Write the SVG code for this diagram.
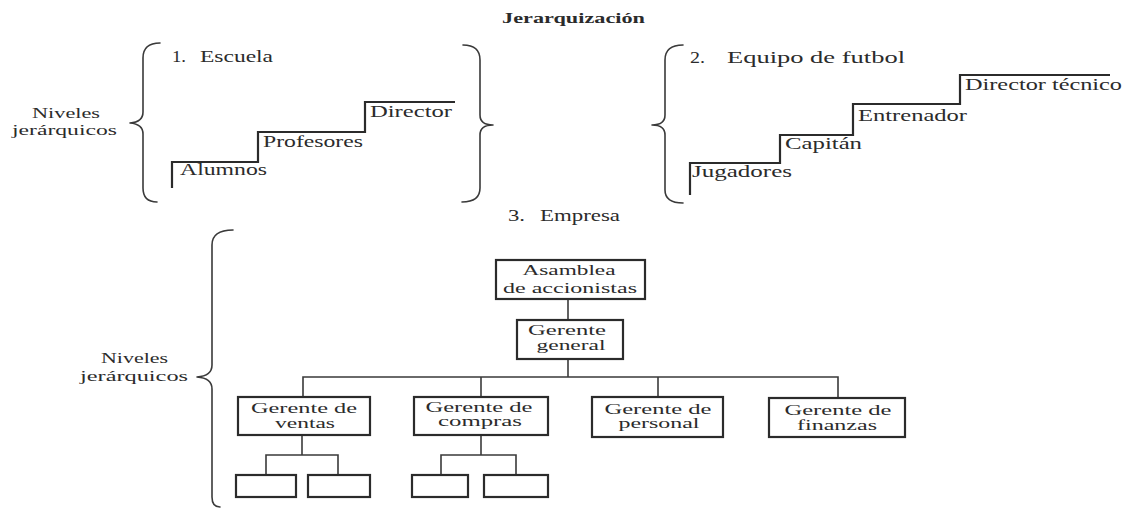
<svg xmlns="http://www.w3.org/2000/svg" width="1129" height="510" viewBox="0 0 1129 510" font-family="'Liberation Serif', 'DejaVu Serif', serif">
  <style>
    text { font-family: "Liberation Serif", "Times New Roman", "DejaVu Serif", serif; fill: #2b2b2b; font-size: 16px; }
    .title { font-weight: bold; font-size: 15px; }
    .side { font-size: 15px; }
    .lbl { text-anchor: middle; font-size: 15px; }
    .brace { fill: none; stroke: #3a3a3a; stroke-width: 1.6; stroke-linecap: round; stroke-linejoin: round; }
    .stair { fill: none; stroke: #2b2b2b; stroke-width: 2.2; }
    .box { fill: #fff; stroke: #2b2b2b; stroke-width: 2.2; }
    .wire { fill: none; stroke: #3a3a3a; stroke-width: 1.6; }
  </style>
  <rect width="1129" height="510" fill="#fff"/>

  <text class="title" x="502" y="23" textLength="143" lengthAdjust="spacingAndGlyphs">Jerarquización</text>

  <!-- 1. Escuela -->
  <g id="escuela">
    <text class="side" x="32" y="118" textLength="68" lengthAdjust="spacingAndGlyphs">Niveles</text>
    <text class="side" x="12" y="135" textLength="105" lengthAdjust="spacingAndGlyphs">jerárquicos</text>
    <path class="brace" d="M160,43 Q143,43 143,58 L143,112 Q143,122 130,123 Q143,124 143,134 L143,188 Q143,202 157,202"/>
    <path class="brace" d="M463,45 Q480,45 480,60 L480,115 Q480,125 493,125 Q480,125 480,135 L480,188 Q480,202 462,202"/>
    <text x="172" y="62" textLength="14" lengthAdjust="spacingAndGlyphs">1.</text>
    <text x="200" y="62" textLength="73" lengthAdjust="spacingAndGlyphs">Escuela</text>
    <path class="stair" d="M172,188 V162 H258 V132 H365 V102 H455"/>
    <text x="180" y="175" textLength="87" lengthAdjust="spacingAndGlyphs">Alumnos</text>
    <text x="263" y="147" textLength="100" lengthAdjust="spacingAndGlyphs">Profesores</text>
    <text x="370" y="117" textLength="82" lengthAdjust="spacingAndGlyphs">Director</text>
  </g>

  <!-- 2. Equipo de futbol -->
  <g id="futbol">
    <path class="brace" d="M683,45 Q665,45 665,60 L665,115 Q665,125 652,125 Q665,125 665,135 L665,190 Q665,203 683,203"/>
    <text x="690" y="63" textLength="15" lengthAdjust="spacingAndGlyphs">2.</text>
    <text x="727" y="63" textLength="178" lengthAdjust="spacingAndGlyphs">Equipo de futbol</text>
    <path class="stair" d="M690,195 V163 H780 V135 H853 V104 H960 V75 H1110"/>
    <text x="692" y="177" textLength="100" lengthAdjust="spacingAndGlyphs">Jugadores</text>
    <text x="785" y="149" textLength="77" lengthAdjust="spacingAndGlyphs">Capitán</text>
    <text x="858" y="121" textLength="109" lengthAdjust="spacingAndGlyphs">Entrenador</text>
    <text x="965" y="90" textLength="157" lengthAdjust="spacingAndGlyphs">Director técnico</text>
  </g>

  <!-- 3. Empresa -->
  <g id="empresa-label">
    <text x="508" y="221" textLength="17" lengthAdjust="spacingAndGlyphs">3.</text>
    <text x="540" y="221" textLength="80" lengthAdjust="spacingAndGlyphs">Empresa</text>
    <text class="side" x="101" y="363" textLength="67" lengthAdjust="spacingAndGlyphs">Niveles</text>
    <text class="side" x="80" y="381" textLength="108" lengthAdjust="spacingAndGlyphs">jerárquicos</text>
    <path class="brace" d="M233,230 Q212,230 212,245 L212,365 Q212,376 197,377 Q212,378 212,389 L212,497 Q212,507 220,507"/>
  </g>

  <!-- organigram connectors -->
  <g id="connectors">
    <path class="wire" d="M568,299 V320"/>
    <path class="wire" d="M568,359 V377"/>
    <path class="wire" d="M303,397 V377 H838 V397"/>
    <path class="wire" d="M481,377 V397"/>
    <path class="wire" d="M658,377 V397"/>
    <path class="wire" d="M302,435 V455"/>
    <path class="wire" d="M266,475 V455 H338 V475"/>
    <path class="wire" d="M481,435 V455"/>
    <path class="wire" d="M441,475 V455 H516 V475"/>
  </g>

  <g id="asamblea">
    <rect class="box" x="496" y="260" width="149" height="39"/>
    <text class="lbl" x="569" y="275" textLength="93" lengthAdjust="spacingAndGlyphs">Asamblea</text>
    <text class="lbl" x="570" y="293" textLength="134" lengthAdjust="spacingAndGlyphs">de accionistas</text>
  </g>
  <g id="gerente-general">
    <rect class="box" x="517" y="320" width="106" height="39"/>
    <text class="lbl" x="567" y="335" textLength="78" lengthAdjust="spacingAndGlyphs">Gerente</text>
    <text class="lbl" x="571" y="350" textLength="69" lengthAdjust="spacingAndGlyphs">general</text>
  </g>
  <g id="gerente-ventas">
    <rect class="box" x="238" y="397" width="132" height="38"/>
    <text class="lbl" x="304" y="413" textLength="106" lengthAdjust="spacingAndGlyphs">Gerente de</text>
    <text class="lbl" x="305" y="428" textLength="60" lengthAdjust="spacingAndGlyphs">ventas</text>
  </g>
  <g id="gerente-compras">
    <rect class="box" x="414" y="397" width="134" height="38"/>
    <text class="lbl" x="479" y="412" textLength="107" lengthAdjust="spacingAndGlyphs">Gerente de</text>
    <text class="lbl" x="480" y="426" textLength="84" lengthAdjust="spacingAndGlyphs">compras</text>
  </g>
  <g id="gerente-personal">
    <rect class="box" x="592" y="397" width="131" height="40"/>
    <text class="lbl" x="658" y="414" textLength="107" lengthAdjust="spacingAndGlyphs">Gerente de</text>
    <text class="lbl" x="659" y="428" textLength="81" lengthAdjust="spacingAndGlyphs">personal</text>
  </g>
  <g id="gerente-finanzas">
    <rect class="box" x="769" y="398" width="136" height="39"/>
    <text class="lbl" x="838" y="415" textLength="107" lengthAdjust="spacingAndGlyphs">Gerente de</text>
    <text class="lbl" x="837" y="430" textLength="80" lengthAdjust="spacingAndGlyphs">finanzas</text>
  </g>

  <g id="ventas-sub-1"><rect class="box" x="236" y="475" width="60" height="22"/></g>
  <g id="ventas-sub-2"><rect class="box" x="308" y="475" width="62" height="22"/></g>
  <g id="compras-sub-1"><rect class="box" x="412" y="475" width="56" height="22"/></g>
  <g id="compras-sub-2"><rect class="box" x="484" y="475" width="64" height="22"/></g>
</svg>
